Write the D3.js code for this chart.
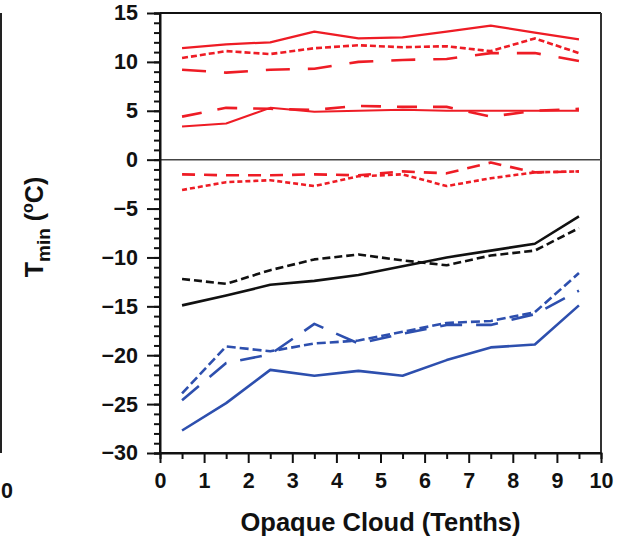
<!DOCTYPE html>
<html>
<head>
<meta charset="utf-8">
<script src="https://cdn.jsdelivr.net/npm/d3@7"></script>
<style>
  html, body { margin: 0; padding: 0; background: #fff; }
  svg { display: block; font-family: "Liberation Sans", Arial, sans-serif; }
</style>
</head>
<body>
<svg id="chart" width="618" height="539"></svg>
<script>
// Opaque cloud amount (tenths), bin centres
const cloudTenths = [0.5, 1.5, 2.5, 3.5, 4.5, 5.5, 6.5, 7.5, 8.5, 9.5];

// Minimum temperature (°C) per cloud bin
const redSolidHigh = [11.4, 11.8, 12.0, 13.1, 12.4, 12.5, 13.1, 13.7, 13.0, 12.3];
const redDotHigh   = [10.4, 11.1, 10.8, 11.4, 11.7, 11.5, 11.6, 11.1, 12.4, 10.9];
const redDashHigh  = [9.2, 8.9, 9.2, 9.3, 10.0, 10.2, 10.3, 10.9, 10.9, 10.1];
const redDashLow   = [4.4, 5.3, 5.2, 5.1, 5.5, 5.4, 5.4, 4.4, 5.0, 5.2];
const redSolidLow  = [3.4, 3.7, 5.3, 4.9, 5.0, 5.1, 5.0, 5.0, 5.0, 5.0];
const redDashZero  = [-1.5, -1.6, -1.6, -1.5, -1.6, -1.2, -1.4, -0.3, -1.3, -1.2];
const redDotZero   = [-3.1, -2.3, -2.1, -2.7, -1.7, -1.5, -2.7, -1.9, -1.3, -1.2];
const blackSolid   = [-14.9, -13.9, -12.8, -12.4, -11.8, -10.9, -10.0, -9.3, -8.6, -5.8];
const blackDash    = [-12.2, -12.7, -11.3, -10.2, -9.7, -10.3, -10.8, -9.8, -9.3, -7.0];
const blueSolid    = [-27.7, -24.9, -21.5, -22.1, -21.6, -22.1, -20.5, -19.2, -18.9, -14.9];
const blueDot      = [-23.9, -19.1, -19.6, -18.8, -18.5, -17.6, -16.7, -16.5, -15.6, -11.6];
const blueDash     = [-24.6, -20.8, -19.9, -16.8, -18.8, -17.8, -16.9, -16.9, -15.8, -13.4];

// Axis ticks
const xTickLabels = [0, 1, 2, 3, 4, 5, 6, 7, 8, 9, 10];
const yTickLabels = [15, 10, 5, 0, -5, -10, -15, -20, -25, -30];

const RED = "#ee1c25", BLUE = "#2d4fae", BLACK = "#111";

const series = [
  { values: redSolidHigh, color: RED, dash: null, width: 2.2 },
  { values: redDotHigh,   color: RED, dash: "6,3", width: 2.6 },
  { values: redDashHigh,  color: RED, dash: "24,18", width: 2.6 },
  { values: redDashLow,   color: RED, dash: "20,16", width: 2.6 },
  { values: redSolidLow,  color: RED, dash: null, width: 2.0 },
  { values: redDashZero,  color: RED, dash: "13,9", width: 2.6 },
  { values: redDotZero,   color: RED, dash: "5,3", width: 2.6 },
  { values: blackSolid,   color: BLACK, dash: null, width: 2.6 },
  { values: blackDash,    color: BLACK, dash: "8,4", width: 2.6 },
  { values: blueSolid,    color: BLUE, dash: null, width: 2.6 },
  { values: blueDot,      color: BLUE, dash: "9,4", width: 2.6 },
  { values: blueDash,     color: BLUE, dash: "22,14", width: 2.6 }
];

const svg = d3.select("#chart");
const x = d3.scaleLinear().domain([0, 10]).range([160, 601]);
const y = d3.scaleLinear().domain([-30, 15]).range([453, 13]);

// Edge of the neighbouring panel on the left, with its last tick label
svg.append("line")
  .attr("x1", 1).attr("x2", 1).attr("y1", y(15)).attr("y2", y(-30))
  .attr("stroke", "#222").attr("stroke-width", 2);
svg.append("text")
  .attr("x", 1).attr("y", 498)
  .attr("text-anchor", "start")
  .style("font-size", "21.5px").style("font-weight", "bold")
  .style("font-family", "'Liberation Sans', Arial, sans-serif")
  .attr("fill", "#111")
  .text("0");

// Frame: top and right borders
svg.append("line")
  .attr("x1", x(0)).attr("x2", x(10)).attr("y1", y(15)).attr("y2", y(15))
  .attr("stroke", "#111").attr("stroke-width", 2);
svg.append("line")
  .attr("x1", x(10)).attr("x2", x(10)).attr("y1", y(15)).attr("y2", y(-30))
  .attr("stroke", "#333").attr("stroke-width", 2);

// Zero line
svg.append("line")
  .attr("x1", x(0)).attr("x2", x(10)).attr("y1", y(0)).attr("y2", y(0))
  .attr("stroke", "#444").attr("stroke-width", 1.5);

// Data lines
const line = d3.line()
  .x((d, i) => x(cloudTenths[i]))
  .y(d => y(d));

svg.append("g").selectAll("path")
  .data(series)
  .join("path")
  .attr("d", s => line(s.values))
  .attr("fill", "none")
  .attr("stroke", s => s.color)
  .attr("stroke-width", s => s.width)
  .attr("stroke-dasharray", s => s.dash)
  .attr("stroke-linejoin", "round");

// Y axis: minor ticks each degree, major ticks every 5 with labels
const yMinor = svg.append("g").attr("transform", `translate(${x(0)},0)`)
  .call(d3.axisLeft(y).tickValues(d3.range(-30, 16, 1)).tickSize(6).tickFormat(""));
const yMajor = svg.append("g").attr("transform", `translate(${x(0)},0)`)
  .call(d3.axisLeft(y).tickValues(yTickLabels).tickSize(13).tickPadding(9).tickFormat(d3.format("d")));

// X axis: minor ticks at half tenths, major at each tenth
const xMinor = svg.append("g").attr("transform", `translate(0,${y(-30)})`)
  .call(d3.axisBottom(x).tickValues(d3.range(0.5, 10, 1)).tickSize(6).tickFormat(""));
const xMajor = svg.append("g").attr("transform", `translate(0,${y(-30)})`)
  .call(d3.axisBottom(x).tickValues(xTickLabels).tickSize(10).tickPadding(10).tickFormat(d3.format("d")));

[yMinor, yMajor, xMinor, xMajor].forEach(g => {
  g.selectAll(".domain").attr("stroke", "#111").attr("stroke-width", 2);
  g.selectAll(".tick line").attr("stroke", "#111").attr("stroke-width", 2);
  g.selectAll("text")
    .attr("font-family", "'Liberation Sans', Arial, sans-serif")
    .attr("font-size", 21.5).attr("font-weight", "bold").attr("fill", "#111");
});
yMajor.select(".domain").attr("d", `M0,${y(15)}V${y(-30)}`);
xMajor.select(".domain").attr("d", `M${x(0)},0H${x(10)}`);

// Axis titles
svg.append("text")
  .attr("x", (x(0) + x(10)) / 2).attr("y", 531)
  .attr("text-anchor", "middle")
  .attr("font-size", 25.5).attr("font-weight", "bold").attr("fill", "#111")
  .text("Opaque Cloud (Tenths)");

const yTitle = svg.append("text")
  .attr("transform", "translate(43,227) rotate(-90)")
  .attr("text-anchor", "middle")
  .attr("font-size", 25).attr("font-weight", "bold").attr("fill", "#111");
yTitle.append("tspan").text("T");
yTitle.append("tspan").attr("font-size", 19).attr("dy", 7).text("min");
yTitle.append("tspan").attr("dy", -7).text(" (");
yTitle.append("tspan").attr("font-size", 16).attr("dy", -10).text("o");
yTitle.append("tspan").attr("dy", 10).text("C)");
</script>
</body>
</html>
